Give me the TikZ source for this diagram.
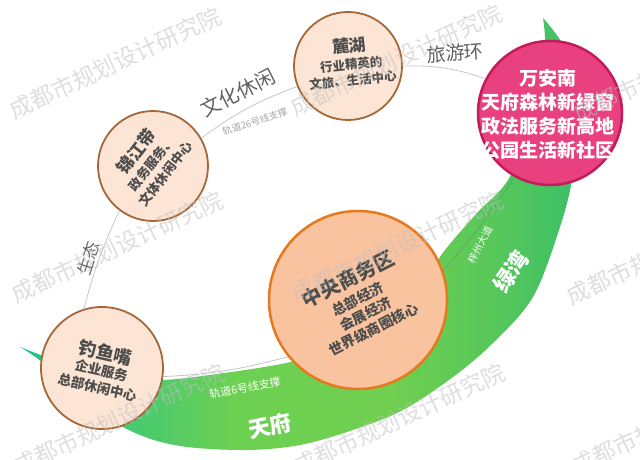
\documentclass[tikz,border=0pt]{standalone}
\usepackage{fontspec}
\setmainfont{Noto Sans CJK SC}
\definecolor{peach}{HTML}{FCE5D4}
\definecolor{brn}{HTML}{A5673A}
\definecolor{txtg}{HTML}{4D4D4D}
\definecolor{cbdfill}{HTML}{F9C3A0}
\definecolor{cbdline}{HTML}{E8781E}
\definecolor{pinkfill}{HTML}{E9407F}
\definecolor{pinkline}{HTML}{C41B5C}
\definecolor{grA}{HTML}{1FC38F}
\definecolor{grB}{HTML}{3EC878}
\definecolor{grC}{HTML}{6CD052}
\definecolor{grD}{HTML}{70CF50}
\definecolor{grE}{HTML}{55C75B}
\definecolor{grF}{HTML}{3CBF68}
\pgfdeclarehorizontalshading{crescentshade}{100bp}{color(0bp)=(grA); color(25bp)=(grA); color(33bp)=(grB); color(44bp)=(grC); color(58bp)=(grD); color(68bp)=(grE); color(75bp)=(grF); color(100bp)=(grF)}
\begin{document}
\begin{tikzpicture}[x=1pt,y=-1pt,
  smallc/.style={circle, draw=brn, line width=1.8pt, fill=peach, inner sep=0pt},
  ctext/.style={align=center, text=txtg, inner sep=0pt},
  conn/.style={draw=black!22, line width=0.8pt},
  inconn/.style={draw=black!55, draw opacity=0.45, line width=0.7pt},
  lbl/.style={text=black!62, inner sep=0pt},
  glbl/.style={text=white, inner sep=0pt},
  wm/.style={text=black!25, text opacity=0.5, font=\fontsize{23}{23}\selectfont, rotate=25, inner sep=0pt}]
\useasboundingbox (0,0) rectangle (640,460);
\fill[white] (0,0) rectangle (640,460);

% green crescent
\shade[shading=crescentshade]
  plot[smooth, tension=0.55] coordinates {(543,18) (568,55) (578,120) (572,180) (559,230) (533,297) (493,343) (453,377) (403,410) (353,430) (300,445) (245,450) (180,446) (133,432) (80,400) (43,363) (20,347)}
  -- plot[smooth, tension=0.55] coordinates {(20,347) (60,362) (100,373) (159,380) (224,373) (286,363) (330,350) (390,315) (422,283) (445,250) (477,213) (508,180) (530,125) (545,60) (543,18)}
  -- cycle;

% circles
\node[smallc, minimum size=110pt] (jjd) at (153,166) {};
\node[smallc, minimum size=108pt] (lh) at (348,66) {};
\node[smallc, minimum size=122pt] (dyz) at (102,368) {};
\node[circle, draw=cbdline, line width=2.5pt, fill=cbdfill, inner sep=0pt, minimum size=178pt] (cbd) at (358,300) {};
\node[circle, draw=pinkline, line width=2.5pt, fill=pinkfill, inner sep=0pt, minimum size=144pt] (wan) at (550,113) {};

% connectors
\draw[conn] (jjd.30) to[bend left=8] (lh.202);
\draw[conn] (lh.0) to[bend left=10] (wan.152);
\draw[conn] (dyz.107) to[bend left=5] (jjd.233);
\draw[inconn] (dyz.-8) to[bend right=6] (cbd.219);
\draw[inconn] (cbd.19) to[bend right=4] (wan.241);

% circle texts
\node[ctext, rotate=52, font=\bfseries\fontsize{13}{17}\selectfont] (tjjd) at (150,162)
  {{\fontsize{17}{19}\selectfont 锦江带}\\[1pt] 政务服务、\\ 文体休闲中心};
\node[ctext, rotate=6, font=\bfseries\fontsize{12.5}{16}\selectfont] (tlh) at (351,62)
  {{\fontsize{17}{19}\selectfont 麓湖}\\[1pt] 行业精英的\\ 文旅、生活中心};
\node[ctext, rotate=-13, font=\bfseries\fontsize{13.5}{17}\selectfont] (tdyz) at (102,369)
  {{\fontsize{18}{20}\selectfont 钓鱼嘴}\\ 企业服务\\ 总部休闲中心};
\node[ctext, rotate=27, font=\bfseries\fontsize{14}{17}\selectfont] (tcbd) at (360,303)
  {{\fontsize{20}{22}\selectfont 中央商务区}\\[3pt] 总部经济\\ 会展经济\\ 世界级商圈核心};
\node[align=center, text=white, inner sep=0pt, font=\bfseries\fontsize{19}{24}\selectfont] (twan) at (548,114)
  {万安南\\天府森林新绿窗\\政法服务新高地\\公园生活新社区};

% connector labels
\node[lbl, rotate=27, font=\fontsize{20}{22}\selectfont] (lwh) at (238,93) {文化休闲};
\node[lbl, rotate=4, font=\fontsize{19}{21}\selectfont] (lly) at (455,53) {旅游环};
\node[lbl, rotate=72, font=\fontsize{17}{19}\selectfont] (lst) at (88,258) {生态};
\node[lbl, text=black!35, rotate=18, font=\fontsize{9.5}{11}\selectfont] (l26) at (255,122) {轨道26号线支撑};

% green labels
\node[glbl, rotate=10, font=\fontsize{11}{12}\selectfont] (l6) at (245,388) {轨道6号线支撑};
\node[glbl, rotate=62, font=\fontsize{10}{11}\selectfont] (lzz) at (480,245) {梓州大道};
\node[glbl, rotate=12, font=\bfseries\fontsize{22}{24}\selectfont] (ltf) at (270,426) {天府};
\node[glbl, rotate=55, font=\bfseries\fontsize{22}{24}\selectfont] (llw) at (511,272) {绿湾};

% watermarks
\begin{scope}
\clip (0,0) rectangle (640,460);
\node[wm] (w1) at (115,63) {成都市规划设计研究院};
\node[wm] (w2) at (396,60) {成都市规划设计研究院};
\node[wm] (w3) at (679,66) {成都市规划设计研究院};
\node[wm] (w4) at (117,247) {成都市规划设计研究院};
\node[wm] (w5) at (397,247) {成都市规划设计研究院};
\node[wm] (w6) at (672,249) {成都市规划设计研究院};
\node[wm] (w7) at (119,419) {成都市规划设计研究院};
\node[wm] (w8) at (399,419) {成都市规划设计研究院};
\node[wm] (w9) at (677,419) {成都市规划设计研究院};
\end{scope}
\end{tikzpicture}
\end{document}
